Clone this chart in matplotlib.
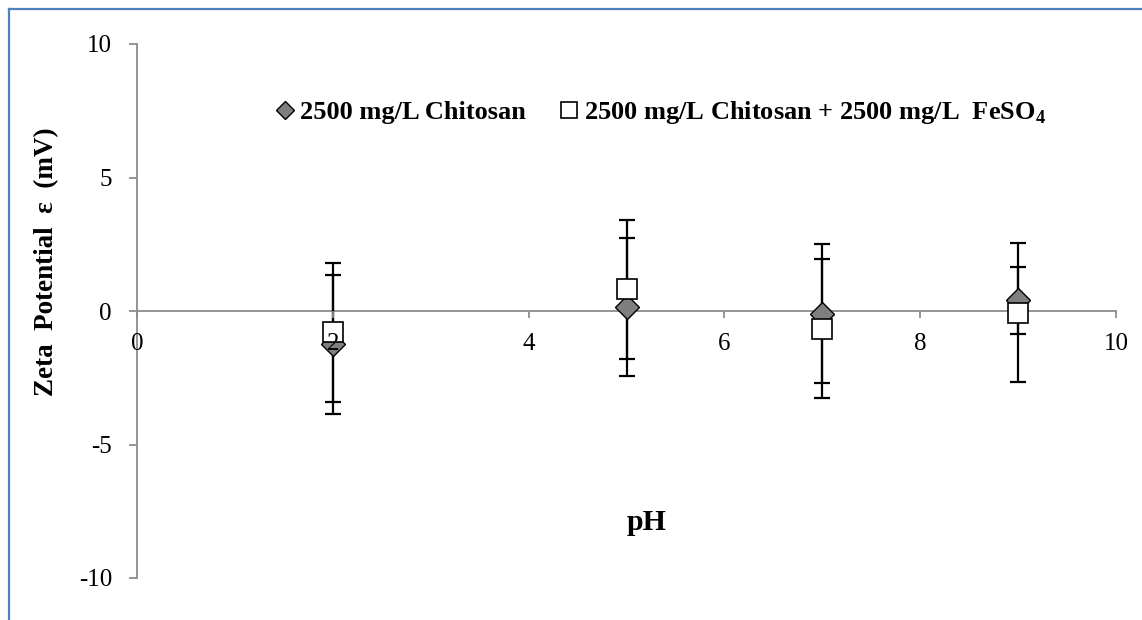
import matplotlib
matplotlib.use("Agg")
import matplotlib.pyplot as plt
from matplotlib.lines import Line2D

plt.rcParams['font.family'] = ['Liberation Serif', 'DejaVu Serif']
plt.rcParams['mathtext.fontset'] = 'custom'
plt.rcParams['mathtext.rm'] = 'Liberation Serif'
plt.rcParams['mathtext.bf'] = 'Liberation Serif:bold'

ph = [2, 5, 7, 9]
chitosan = [-1.25, 0.15, -0.1, 0.4]
chitosan_err = [2.6, 2.6, 2.6, 1.25]
chitosan_fe = [-0.79, 0.82, -0.67, -0.06]
chitosan_fe_err = [2.6, 2.6, 2.6, 2.6]

x_ticks = [0, 2, 4, 6, 8, 10]
y_ticks = [-10, -5, 0, 5, 10]

label1 = "2500 mg/L Chitosan"
label2 = r"2500 mg/L Chitosan + 2500 mg/L  FeSO$_{\mathbf{4}}$"

fig = plt.figure(figsize=(11.42, 6.2), dpi=100)
ax = fig.add_axes([137/1142, 1-578/620, (1116-137)/1142, (578-44)/620])

ax.errorbar(ph, chitosan, yerr=chitosan_err, fmt='none', ecolor='black',
            elinewidth=1.6, capsize=6, capthick=1.6, zorder=2)
ax.errorbar(ph, chitosan_fe, yerr=chitosan_fe_err, fmt='none', ecolor='black',
            elinewidth=1.6, capsize=6, capthick=1.6, zorder=2)
ax.plot(ph, chitosan, linestyle='none', marker='D', markersize=12,
        markerfacecolor='#7f7f7f', markeredgecolor='black', markeredgewidth=1.0, zorder=2.1)
ax.plot(ph, chitosan_fe, linestyle='none', marker='s', markersize=14.5,
        markerfacecolor='white', markeredgecolor='black', markeredgewidth=1.2, zorder=2.2)

ax.set_xlim(0, 10)
ax.set_ylim(-10, 10)
ax.set_xticks(x_ticks)
ax.set_yticks(y_ticks)
ax.set_yticklabels([str(v) for v in y_ticks])

for s in ['top', 'right']:
    ax.spines[s].set_visible(False)
ax.spines['bottom'].set_position(('data', 0))
for s in ['left', 'bottom']:
    ax.spines[s].set_color('#8c8c8c')
    ax.spines[s].set_linewidth(1.3)
    ax.spines[s].set_zorder(1)
ax.xaxis.set_zorder(4)

ax.tick_params(axis='y', direction='out', length=6, width=1.3, color='#8c8c8c',
               labelsize=18, pad=12)
ax.tick_params(axis='x', direction='out', length=5, width=1.3, color='#8c8c8c',
               labelsize=18, pad=11)

h1 = Line2D([], [], linestyle='none', marker='D', markersize=9.5,
            markerfacecolor='#7f7f7f', markeredgecolor='black', markeredgewidth=1.0)
h2 = Line2D([], [], linestyle='none', marker='s', markersize=11.5,
            markerfacecolor='white', markeredgecolor='black', markeredgewidth=1.2)
fig.legend([h1, h2], [label1, label2], ncol=2, frameon=False,
           loc='center left', bbox_to_anchor=(276/1142, 1-113/620),
           prop={'weight': 'bold', 'size': 19}, handlelength=0.7,
           handletextpad=0.2, columnspacing=1.3, borderaxespad=0, borderpad=0)

fig.text(47/1142, 1-262/620, "Zeta  Potential  ε  (mV)", rotation=90,
         ha='center', va='center', fontsize=19.5, fontweight='bold')
fig.text(647/1142, 1-523/620, "pH", ha='center', va='center',
         fontsize=21.5, fontweight='bold')

# outer blue frame
fig.add_artist(Line2D([9/1142, 9/1142], [0, 1-9/620], transform=fig.transFigure,
                      color='#4f81bd', linewidth=1.6))
fig.add_artist(Line2D([9/1142, 1], [1-9/620, 1-9/620], transform=fig.transFigure,
                      color='#4f81bd', linewidth=1.6))

fig.savefig("out.png", dpi=100)
